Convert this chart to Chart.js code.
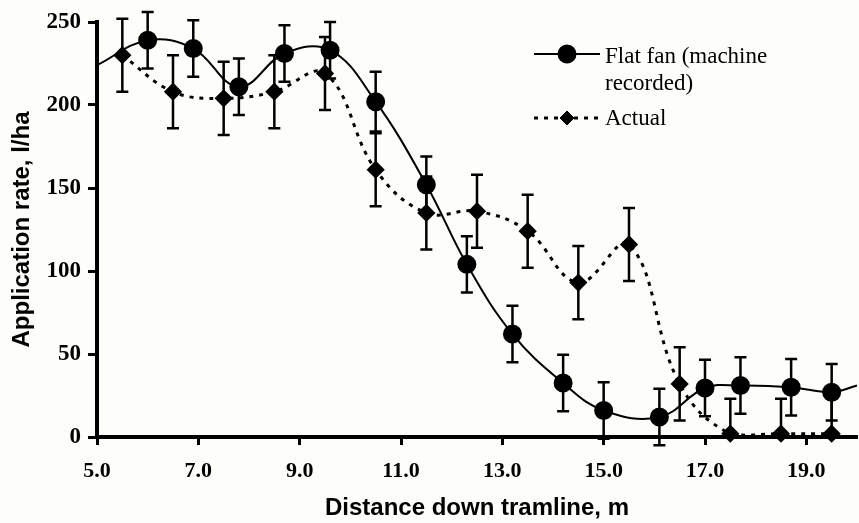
<!DOCTYPE html>
<html>
<head>
<meta charset="utf-8">
<script src="https://cdn.jsdelivr.net/npm/chart.js@4/dist/chart.umd.min.js"></script>
<style>
  html, body { margin: 0; padding: 0; background: #fdfdf9; }
  #wrap { width: 859px; height: 523px; }
</style>
</head>
<body>
<div id="wrap"><canvas id="chart" width="859" height="523"></canvas></div>
<script>
// Axis ticks
var xTicks = [5, 7, 9, 11, 13, 15, 17, 19];
var yTicks = [0, 50, 100, 150, 200, 250];

// Flat fan (machine recorded) - first and last values are where the fitted curve meets the plot edges
var fanX   = [5.0, 6.0, 6.9, 7.8, 8.7, 9.6, 10.5, 11.5, 12.3, 13.2, 14.2, 15.0, 16.1, 17.0, 17.7, 18.7, 19.5, 20.0];
var fanY   = [224, 239, 234, 211, 231, 233, 202, 152, 104, 62, 32.5, 16, 12, 29.5, 31, 30, 27, 31];
var fanErr = [null, 17, 17, 17, 17, 17, 18, 17, 17, 17, 17, 17, 17, 17, 17, 17, 17, null];

// Actual
var actX     = [5.5, 6.5, 7.5, 8.5, 9.5, 10.5, 11.5, 12.5, 13.5, 14.5, 15.5, 16.5, 17.5, 18.5, 19.5];
var actY     = [230, 208, 204, 208, 219, 161, 135, 136, 124, 93, 116, 32, 2, 2, 2];
var actErrHi = [22, 22, 22, 22, 22, 22, 22, 22, 22, 22, 22, 22, 21, 21, 21];
var actErrLo = [22, 22, 22, 22, 22, 22, 22, 22, 22, 22, 22, 22, 0, 0, 0];

function toPoints(xs, ys) {
    return xs.map(function (x, i) { return { x: x, y: ys[i] }; });
}

function drawBars(chart, xs, ys, hi, lo) {
    var ctx = chart.ctx;
    var sx = chart.scales.x, sy = chart.scales.y;
    ctx.save();
    ctx.strokeStyle = '#000';
    ctx.lineWidth = 2.5;
    for (var i = 0; i < xs.length; i++) {
        if (hi[i] == null) continue;
        var px = sx.getPixelForValue(xs[i]);
        var top = sy.getPixelForValue(ys[i] + hi[i]);
        var bot = sy.getPixelForValue(ys[i] - lo[i]);
        ctx.beginPath();
        ctx.moveTo(px, top);
        ctx.lineTo(px, bot);
        ctx.moveTo(px - 6, top);
        ctx.lineTo(px + 6, top);
        if (lo[i] > 0) {
            ctx.moveTo(px - 6, bot);
            ctx.lineTo(px + 6, bot);
        }
        ctx.stroke();
    }
    ctx.restore();
}

var errorBars = {
    id: 'errorBars',
    beforeDatasetsDraw: function (chart) {
        drawBars(chart, fanX, fanY, fanErr, fanErr);
        drawBars(chart, actX, actY, actErrHi, actErrLo);
    }
};

var background = {
    id: 'background',
    beforeDraw: function (chart) {
        var ctx = chart.ctx;
        ctx.save();
        ctx.fillStyle = '#fdfdf9';
        ctx.fillRect(0, 0, chart.width, chart.height);
        ctx.restore();
    }
};

// Legend drawn by hand so the first label can wrap onto two lines
var legendBox = {
    id: 'legendBox',
    afterDraw: function (chart) {
        var ctx = chart.ctx;
        ctx.save();
        ctx.strokeStyle = '#000';
        ctx.fillStyle = '#000';

        ctx.lineWidth = 2;
        ctx.beginPath();
        ctx.moveTo(534, 54);
        ctx.lineTo(600, 54);
        ctx.stroke();
        Chart.helpers.drawPoint(ctx, { pointStyle: 'circle', radius: 8.5, borderWidth: 1 }, 567, 54);
        ctx.fill();

        ctx.lineWidth = 3;
        ctx.setLineDash([4, 6]);
        ctx.beginPath();
        ctx.moveTo(534, 118);
        ctx.lineTo(600, 118);
        ctx.stroke();
        ctx.setLineDash([]);
        ctx.lineWidth = 1;
        Chart.helpers.drawPoint(ctx, { pointStyle: 'rectRot', radius: 7, borderWidth: 1 }, 567, 118);
        ctx.fill();

        ctx.font = '23px "Liberation Serif", "Times New Roman", serif';
        ctx.textBaseline = 'alphabetic';
        ctx.textAlign = 'left';
        ctx.fillText('Flat fan (machine', 605, 63);
        ctx.fillText('recorded)', 605, 90);
        ctx.fillText('Actual', 605, 125);
        ctx.restore();
    }
};

var serif = '"Liberation Serif", "Times New Roman", serif';
var titleFont = { family: '"Liberation Sans", Arial, sans-serif', weight: 'bold', size: 24 };

new Chart(document.getElementById('chart').getContext('2d'), {
    type: 'line',
    data: {
        datasets: [
            {
                label: 'Flat fan (machine recorded)',
                data: toPoints(fanX, fanY),
                borderColor: '#000',
                backgroundColor: '#000',
                borderWidth: 2,
                tension: 0.4,
                pointStyle: 'circle',
                pointRadius: function (c) { return fanErr[c.dataIndex] == null ? 0 : 8.5; },
                pointBackgroundColor: '#000',
                pointBorderColor: '#000',
                clip: false
            },
            {
                label: 'Actual',
                data: toPoints(actX, actY),
                borderColor: '#000',
                backgroundColor: '#000',
                borderWidth: 3,
                borderDash: [4, 6],
                tension: 0.4,
                pointStyle: 'rectRot',
                pointRadius: 7,
                pointBackgroundColor: '#000',
                pointBorderColor: '#000',
                clip: false
            }
        ]
    },
    options: {
        responsive: false,
        animation: false,
        devicePixelRatio: 1,
        layout: { autoPadding: false, padding: { top: 22, right: 2, left: 0, bottom: 0 } },
        plugins: {
            legend: { display: false },
            tooltip: { enabled: false }
        },
        scales: {
            x: {
                type: 'linear',
                min: 5,
                max: 20,
                afterBuildTicks: function (axis) {
                    axis.ticks = xTicks.map(function (v) { return { value: v }; });
                },
                afterFit: function (s) { s.height = 86; },
                grid: { drawOnChartArea: false, drawTicks: true, tickLength: 8, tickWidth: 3, tickColor: '#000', color: '#000' },
                border: { display: true, color: '#000', width: 4 },
                ticks: {
                    color: '#000',
                    font: { family: serif, weight: 'bold', size: 22 },
                    padding: 13,
                    maxRotation: 0,
                    callback: function (v) { return v.toFixed(1); }
                },
                title: { display: true, text: 'Distance down tramline, m', color: '#000', font: titleFont, padding: { top: 0, bottom: 0 } }
            },
            y: {
                min: 0,
                max: 250,
                afterBuildTicks: function (axis) {
                    axis.ticks = yTicks.map(function (v) { return { value: v }; });
                },
                afterFit: function (s) { s.width = 97; },
                grid: { drawOnChartArea: false, drawTicks: true, tickLength: 9, tickWidth: 3, tickColor: '#000', color: '#000' },
                border: { display: true, color: '#000', width: 4 },
                ticks: { color: '#000', font: { family: serif, weight: 'bold', size: 23 }, padding: 7 },
                title: { display: true, text: 'Application rate, l/ha', color: '#000', font: titleFont, padding: { top: 8, bottom: 0 } }
            }
        }
    },
    plugins: [background, errorBars, legendBox]
});
</script>
</body>
</html>
